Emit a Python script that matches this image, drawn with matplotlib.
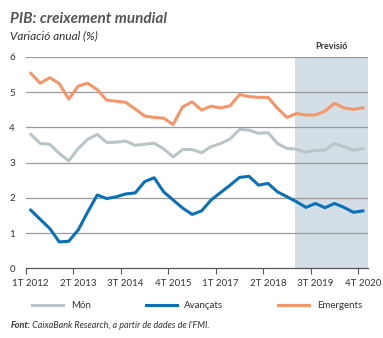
import matplotlib.pyplot as plt
from matplotlib.lines import Line2D

# Trimestres 1T 2012 - 4T 2020
trimestres = [f"{q}T {a}" for a in range(2012, 2021) for q in range(1, 5)]

mon = [3.80, 3.54, 3.52, 3.26, 3.05, 3.40, 3.66, 3.80, 3.57, 3.58,
       3.61, 3.49, 3.52, 3.55, 3.39, 3.16, 3.37, 3.37, 3.28, 3.45,
       3.54, 3.67, 3.94, 3.92, 3.83, 3.85, 3.54, 3.40, 3.38, 3.29,
       3.35, 3.35, 3.54, 3.45, 3.35, 3.40]

avancats = [1.65, 1.39, 1.13, 0.75, 0.77, 1.09, 1.60, 2.08, 1.98, 2.03,
            2.11, 2.14, 2.46, 2.57, 2.17, 1.94, 1.71, 1.53, 1.63, 1.94,
            2.15, 2.36, 2.58, 2.61, 2.36, 2.41, 2.17, 2.03, 1.89, 1.73,
            1.84, 1.72, 1.84, 1.73, 1.59, 1.63]

emergents = [5.53, 5.25, 5.41, 5.24, 4.80, 5.17, 5.25, 5.07, 4.77, 4.74,
             4.71, 4.52, 4.32, 4.28, 4.26, 4.08, 4.58, 4.72, 4.49, 4.60,
             4.55, 4.61, 4.93, 4.87, 4.85, 4.85, 4.54, 4.28, 4.39, 4.35,
             4.35, 4.46, 4.68, 4.55, 4.51, 4.55]

inici_previsio = 27.8  # inici de la zona de previsió

gris = '#B9C5C8'
blau = '#0A70B8'
taronja = '#F4966A'
text_col = '#333333'

plt.rcParams['font.family'] = 'Lato'

fig = plt.figure(figsize=(3.83, 3.38), dpi=100)
ax = fig.add_axes([0.068, 0.206, 0.892, 0.626])

x = list(range(len(trimestres)))

ax.axvspan(inici_previsio, 35.5, color='#D3DEE6', lw=0, zorder=0)
ax.text((inici_previsio + 35.5) / 2, 6.15, 'Previsió', ha='center', va='bottom',
        fontsize=6.5, fontweight='bold', color=text_col)

for v in range(1, 7):
    ax.axhline(v, color='#9A9A9A', lw=0.9, zorder=1)

ax.plot(x, mon, color=gris, lw=2.2, label='Món', zorder=3)
ax.plot(x, avancats, color=blau, lw=2.2, label='Avançats', zorder=3)
ax.plot(x, emergents, color=taronja, lw=2.2, label='Emergents', zorder=3)

ax.set_xlim(-0.5, 35.5)
ax.set_ylim(0, 6)
ax.set_yticks(range(0, 7))
ax.tick_params(axis='y', length=0, labelsize=7, colors=text_col, pad=8)

ax.set_xticks(x[::5])
ax.set_xticklabels(trimestres[::5])
ax.set_xticks([i - 0.5 for i in x[::5]], minor=True)
ax.tick_params(axis='x', which='major', length=0, labelsize=7, colors=text_col, pad=8)
ax.tick_params(axis='x', which='minor', length=4, width=0.8, color='#555555')

for s in ['top', 'right', 'left']:
    ax.spines[s].set_visible(False)
ax.spines['bottom'].set_color('#555555')
ax.spines['bottom'].set_linewidth(0.9)

# Títols
fig.text(0.027, 0.945, 'PIB: creixement mundial', fontsize=11, fontweight='bold',
         fontstyle='italic', color='#555555', va='center')
fig.text(0.027, 0.895, 'Variació anual (%)', fontsize=8.5, fontstyle='italic',
         color=text_col, va='center')

# Llegenda
handles = [Line2D([], [], color=c, lw=2.2) for c in (gris, blau, taronja)]
fig.legend(handles, ['Món', 'Avançats', 'Emergents'], loc='center',
           bbox_to_anchor=(0.515, 1 - 306 / 338), ncol=3, frameon=False,
           fontsize=7, handlelength=3.2, columnspacing=5.6, handletextpad=0.8,
           labelcolor=text_col)

# Font
t1 = fig.text(0.027, 1 - 326 / 338, 'Font:', fontsize=6.5, fontweight='bold',
              fontstyle='italic', color=text_col, va='center')
plt.annotate(' CaixaBank Research, a partir de dades de l\'FMI.', xy=(1, 0.5),
             xycoords=t1, va='center', fontsize=6.5, fontstyle='italic',
             color=text_col, annotation_clip=False)

fig.savefig('out.png', dpi=100)
